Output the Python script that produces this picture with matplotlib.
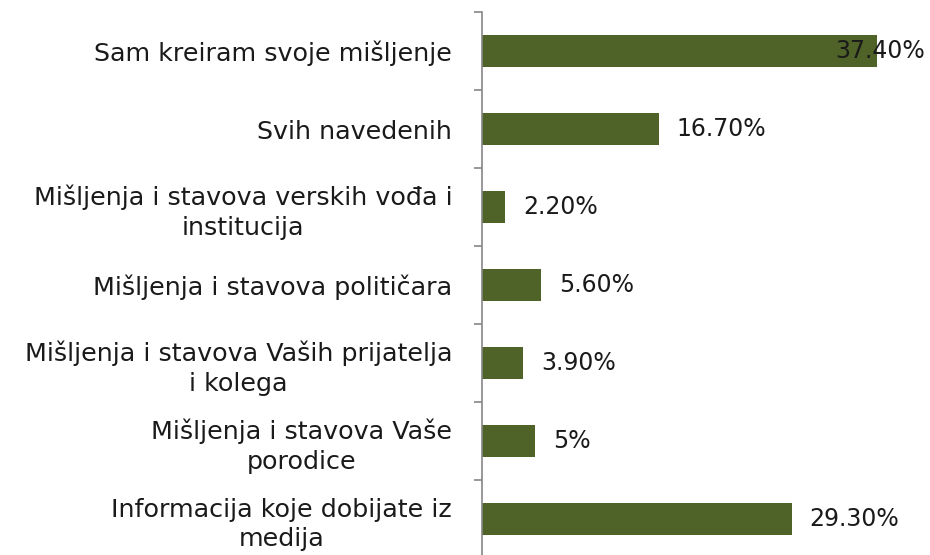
import matplotlib
matplotlib.use("Agg")
import matplotlib.pyplot as plt
import numpy as np

categories = [
    "Sam kreiram svoje mišljenje",
    "Svih navedenih",
    "Mišljenja i stavova verskih vođa i\ninstitucija",
    "Mišljenja i stavova političara",
    "Mišljenja i stavova Vaših prijatelja\ni kolega",
    "Mišljenja i stavova Vaše\nporodice",
    "Informacija koje dobijate iz\nmedija",
]
values = [37.4, 16.7, 2.2, 5.6, 3.9, 5.0, 29.3]
value_labels = ["37.40%", "16.70%", "2.20%", "5.60%", "3.90%", "5%", "29.30%"]

plt.rcParams['font.family'] = ['DejaVu Sans']
FS_CAT = 18.3
FS_VAL = 17
text_color = '#1a1a1a'
bar_color = '#4F6228'
axis_color = '#868686'

W, H = 930, 555
fig = plt.figure(figsize=(W / 100, H / 100), dpi=100)
ax = fig.add_axes([482 / W, -3 / H, (W - 482) / W, (558 - 12) / H])

y = np.arange(len(categories))
ax.barh(y, values, height=0.4, color=bar_color)
ax.set_xlim(0, (W - 482) / 10.57)
ax.set_ylim(len(categories) - 0.5, -0.5)

for s in ['top', 'right', 'bottom']:
    ax.spines[s].set_visible(False)
ax.spines['left'].set_color(axis_color)
ax.spines['left'].set_linewidth(1.2)
ax.set_xticks([])
ax.set_yticks(y)
ax.set_yticklabels(categories, fontsize=FS_CAT, color=text_color, linespacing=1.3)
for lab in ax.get_yticklabels():
    lab.set_multialignment('center')
ax.set_yticks(np.arange(-0.5, len(categories), 1.0), minor=True)
ax.tick_params(axis='y', which='major', length=0, pad=21.5)
ax.tick_params(axis='y', which='minor', length=5.5, width=1.2, color=axis_color)

fig.canvas.draw()
renderer = fig.canvas.get_renderer()
for i, (v, t) in enumerate(zip(values, value_labels)):
    txt = ax.annotate(t, xy=(v, i), xytext=(18, 0), textcoords='offset pixels',
                      ha='left', va='center', fontsize=FS_VAL, color=text_color)
    bb = txt.get_window_extent(renderer)
    if bb.x1 > W - 4:
        txt.remove()
        ax.annotate(t, xy=(1.0, i), xycoords=('axes fraction', 'data'),
                    xytext=(-5, 0), textcoords='offset pixels',
                    ha='right', va='center', fontsize=FS_VAL, color=text_color)

fig.savefig('out.png', dpi=100)
